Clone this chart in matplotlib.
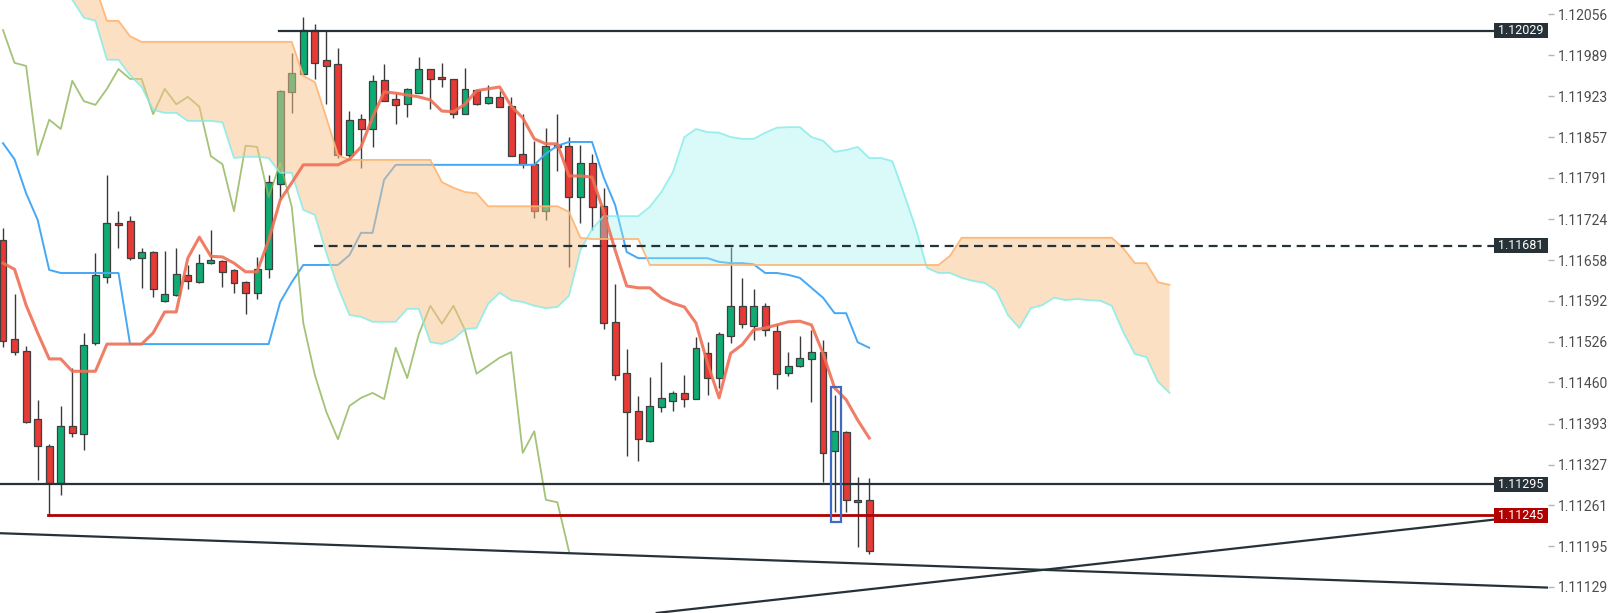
import numpy as np
import matplotlib
matplotlib.use("Agg")
import matplotlib.pyplot as plt
from matplotlib.patches import Rectangle
from matplotlib.transforms import blended_transform_factory

# ---- candles (EUR/USD style prices) ----
opens = [1.11690, 1.11530, 1.11511, 1.11401, 1.11357, 1.11297, 1.11389, 1.11377, 1.11524, 1.11631,
         1.11718, 1.11721, 1.11661, 1.11671, 1.11592, 1.11601, 1.11634, 1.11622, 1.11653, 1.11656,
         1.11642, 1.11622, 1.11605, 1.11643, 1.11781, 1.11930, 1.11959, 1.12030, 1.11982, 1.11975,
         1.11828, 1.11886, 1.11870, 1.11949, 1.11918, 1.11910, 1.11928, 1.11967, 1.11954, 1.11951,
         1.11894, 1.11933, 1.11912, 1.11922, 1.11907, 1.11830, 1.11813, 1.11737, 1.11844, 1.11843,
         1.11760, 1.11815, 1.11745, 1.11558, 1.11475, 1.11414, 1.11365, 1.11420, 1.11430, 1.11443,
         1.11433, 1.11508, 1.11467, 1.11535, 1.11584, 1.11551, 1.11584, 1.11543, 1.11475, 1.11487,
         1.11498, 1.11509, 1.11349, 1.11380, 1.11270, 1.11270]
highs = [1.11710, 1.11603, 1.11519, 1.11432, 1.11360, 1.11422, 1.11483, 1.11540, 1.11669, 1.11796,
         1.11737, 1.11729, 1.11677, 1.11673, 1.11673, 1.11677, 1.11650, 1.11668, 1.11707, 1.11658,
         1.11643, 1.11624, 1.11663, 1.11796, 1.11933, 1.11993, 1.12051, 1.12040, 1.12030, 1.12001,
         1.11899, 1.11894, 1.11957, 1.11975, 1.11928, 1.11936, 1.11986, 1.11967, 1.11977, 1.11951,
         1.11969, 1.11933, 1.11941, 1.11932, 1.11922, 1.11894, 1.11851, 1.11872, 1.11894, 1.11857,
         1.11844, 1.11830, 1.11775, 1.11619, 1.11514, 1.11438, 1.11469, 1.11493, 1.11446, 1.11472,
         1.11533, 1.11525, 1.11541, 1.11679, 1.11629, 1.11611, 1.11588, 1.11555, 1.11509, 1.11535,
         1.11545, 1.11529, 1.11440, 1.11381, 1.11307, 1.11305]
lows = [1.11517, 1.11504, 1.11394, 1.11302, 1.11245, 1.11278, 1.11372, 1.11351, 1.11521, 1.11621,
        1.11677, 1.11658, 1.11613, 1.11598, 1.11590, 1.11600, 1.11611, 1.11621, 1.11651, 1.11614,
        1.11605, 1.11571, 1.11595, 1.11629, 1.11755, 1.11896, 1.11959, 1.11951, 1.11910, 1.11823,
        1.11825, 1.11807, 1.11841, 1.11915, 1.11878, 1.11889, 1.11928, 1.11902, 1.11938, 1.11888,
        1.11894, 1.11909, 1.11910, 1.11906, 1.11826, 1.11807, 1.11726, 1.11723, 1.11802, 1.11647,
        1.11718, 1.11707, 1.11546, 1.11464, 1.11341, 1.11333, 1.11364, 1.11412, 1.11414, 1.11420,
        1.11433, 1.11440, 1.11451, 1.11524, 1.11548, 1.11529, 1.11535, 1.11449, 1.11470, 1.11485,
        1.11428, 1.11299, 1.11250, 1.11250, 1.11194, 1.11182]
closes = [1.11527, 1.11509, 1.11396, 1.11357, 1.11297, 1.11389, 1.11378, 1.11521, 1.11634, 1.11718,
          1.11715, 1.11661, 1.11671, 1.11611, 1.11603, 1.11635, 1.11624, 1.11653, 1.11658, 1.11639,
          1.11621, 1.11605, 1.11643, 1.11784, 1.11932, 1.11961, 1.12030, 1.11977, 1.11972, 1.11828,
          1.11885, 1.11870, 1.11948, 1.11915, 1.11909, 1.11935, 1.11967, 1.11951, 1.11951, 1.11894,
          1.11935, 1.11910, 1.11922, 1.11906, 1.11826, 1.11813, 1.11737, 1.11843, 1.11841, 1.11760,
          1.11815, 1.11744, 1.11556, 1.11472, 1.11412, 1.11368, 1.11422, 1.11435, 1.11443, 1.11433,
          1.11516, 1.11467, 1.11538, 1.11584, 1.11555, 1.11584, 1.11545, 1.11474, 1.11487, 1.11500,
          1.11509, 1.11346, 1.11381, 1.11270, 1.11266, 1.11187]

# ---- ichimoku lines ----
tenkan = [1.11653, 1.11643, 1.11585, 1.11540, 1.11498, 1.11498, 1.11478, 1.11478, 1.11478, 1.11522,
          1.11522, 1.11522, 1.11522, 1.11540, 1.11574, 1.11574, 1.11661, 1.11695, 1.11664, 1.11663,
          1.11653, 1.11639, 1.11639, 1.11690, 1.11755, 1.11783, 1.11812, 1.11812, 1.11812, 1.11812,
          1.11821, 1.11841, 1.11889, 1.11930, 1.11928, 1.11925, 1.11922, 1.11917, 1.11899, 1.11898,
          1.11910, 1.11932, 1.11935, 1.11938, 1.11907, 1.11888, 1.11854, 1.11846, 1.11846, 1.11794,
          1.11794, 1.11792, 1.11737, 1.11674, 1.11616, 1.11613, 1.11613, 1.11597, 1.11588, 1.11582,
          1.11556, 1.11491, 1.11435, 1.11507, 1.11521, 1.11545, 1.11548, 1.11553, 1.11558, 1.11559,
          1.11553, 1.11507, 1.11451, 1.11432, 1.11399, 1.11370]
kijun = ([1.11847, 1.11821, 1.11766, 1.11723, 1.11642] + [1.11637] * 6 + [1.11522] * 13
         + [1.11590, 1.11622] + [1.11650] * 4 + [1.11666, 1.11702, 1.11702, 1.11788]
         + [1.11812] * 13 + [1.11830, 1.11843] + [1.11849] * 3 + [1.11792, 1.11747, 1.11671]
         + [1.11661] * 7 + [1.11655, 1.11653, 1.11653, 1.11651, 1.11637, 1.11637]
         + [1.11634, 1.11629, 1.11613, 1.11597, 1.11572, 1.11572, 1.11525, 1.11516])
span_a = [1.12150, 1.12140, 1.12130, 1.12118, 1.12105, 1.12092, 1.12079, 1.12050, 1.12045, 1.11982,
          1.11982, 1.11957, 1.11938, 1.11901, 1.11896, 1.11896, 1.11883, 1.11883, 1.11883, 1.11881,
          1.11823, 1.11825, 1.11825, 1.11823, 1.11799, 1.11799, 1.11739, 1.11731, 1.11669, 1.11614,
          1.11569, 1.11566, 1.11558, 1.11558, 1.11558, 1.11579, 1.11579, 1.11525, 1.11522, 1.11530,
          1.11546, 1.11548, 1.11587, 1.11605, 1.11593, 1.11590, 1.11584, 1.11580, 1.11582, 1.11600,
          1.11674, 1.11708, 1.11729, 1.11729, 1.11729, 1.11729, 1.11744, 1.11768, 1.11800, 1.11857,
          1.11870, 1.11865, 1.11864, 1.11857, 1.11854, 1.11854, 1.11864, 1.11872, 1.11873, 1.11873,
          1.11857, 1.11851, 1.11833, 1.11836, 1.11841, 1.11823, 1.11823, 1.11818, 1.11766, 1.11711,
          1.11645, 1.11637, 1.11637, 1.11629, 1.11624, 1.11621, 1.11608, 1.11569, 1.11548, 1.11580,
          1.11585, 1.11597, 1.11593, 1.11595, 1.11593, 1.11592, 1.11584, 1.11541, 1.11506, 1.11501,
          1.11461, 1.11443]
span_b = ([1.12190, 1.12190, 1.12190, 1.12185, 1.12175, 1.12160, 1.12140, 1.12120, 1.12100]
          + [1.12045, 1.12045, 1.12020] + [1.12011] * 14 + [1.11956, 1.11946, 1.11888, 1.11828]
          + [1.11820] * 8 + [1.11784, 1.11775, 1.11768, 1.11766] + [1.11745] * 7
          + [1.11736, 1.11694] + [1.11692] * 5 + [1.11650] * 26 + [1.11665]
          + [1.11694] * 14 + [1.11677, 1.11653, 1.11653, 1.11622, 1.11618])
shift = 26

# ---- drawn levels / lines ----
levels = [1.12029, 1.11681, 1.11295, 1.11245]
level_start = [23.9, 26.9, -0.3, 3.9]
level_colors = ["#263238", "#263238", "#263238", "#b00000"]
level_styles = ["-", (0, (4, 2.6)), "-", "-"]
label_colors = ["#263238", "#263238", "#263238", "#b00000"]
line_end = 129.1
trend_down = ([-0.26, 133.77], [1.11216, 1.11128])
trend_up = ([56.6, 129.1], [1.11087, 1.11238])
box_x = [71.7, 72.55]
box_y = [1.11234, 1.11453]

yticks = [1.12056, 1.11989, 1.11923, 1.11857, 1.11791, 1.11724, 1.11658, 1.11592,
          1.11526, 1.11460, 1.11393, 1.11327, 1.11261, 1.11195, 1.11129]

W, H = 1610, 613
fig = plt.figure(figsize=(W / 100, H / 100), dpi=100)
ax = fig.add_axes([0, 0, 1548 / W, 1])
ax.set_xlim(-0.26, 133.77)
ax.set_ylim(1.110869, 1.120787)

idx = np.arange(len(opens))
o = np.array(opens); c = np.array(closes)
up = c >= o
body_col = np.where(up, "#0eac72", "#e53a35")

# candles
ax.vlines(idx, lows, highs, color="#3a3a3a", lw=1.0, zorder=2)
ax.bar(idx, np.abs(c - o), bottom=np.minimum(o, c), width=0.6, color=body_col,
       edgecolor="#3f3f3f", linewidth=0.9, zorder=2.5)

# kijun and lagging span sit under the cloud fill
ax.plot(idx, kijun, color="#45a8f7", lw=1.4, zorder=2.8)
ax.plot(idx[:-shift], closes[shift:], color="#8db356", lw=1.3, alpha=0.8, zorder=2.8)

# cloud
xc = np.arange(len(span_a))
a = np.array(span_a); b = np.array(span_b)
ax.fill_between(xc, a, b, where=b >= a, interpolate=True, color="#f9c38a", alpha=0.5, lw=0, zorder=3)
ax.fill_between(xc, a, b, where=a >= b, interpolate=True, color="#a0f0f0", alpha=0.38, lw=0, zorder=3)
ax.plot(xc, a, color="#80ece8", lw=1.3, alpha=0.8, zorder=3.2)
ax.plot(xc, b, color="#ffb470", lw=1.3, alpha=0.9, zorder=3.2)

# conversion line
ax.plot(idx, tenkan, color="#ef7055", lw=2.2, alpha=0.9, zorder=4.2)

# levels
tr = blended_transform_factory(ax.transAxes, ax.transData)
bh = 15 * (1.120787 - 1.110869) / H
for lv, x0, col, ls, lc in zip(levels, level_start, level_colors, level_styles, label_colors):
    ax.plot([x0, line_end], [lv, lv], color=col, lw=1.6 if col != "#b00000" else 2.0,
            linestyle=ls, zorder=5)
    ax.add_patch(Rectangle((1494 / 1548, lv - bh / 2), 1 - 1494 / 1548, bh, transform=tr,
                           facecolor=lc, edgecolor="none", zorder=6, clip_on=False))
    ax.text((1 + 1494 / 1548) / 2, lv, f"{lv:.5f}", transform=tr, ha="center", va="center",
            color="white", fontsize=9, family="Roboto", zorder=7)

ax.plot(*trend_down, color="#263238", lw=1.6, zorder=5)
ax.plot(*trend_up, color="#263238", lw=1.6, zorder=5)
ax.add_patch(Rectangle((box_x[0], box_y[0]), box_x[1] - box_x[0], box_y[1] - box_y[0],
                       fill=False, edgecolor="#4169c4", lw=1.6, zorder=6))

# axis styling
for s in ax.spines.values():
    s.set_visible(False)
ax.set_xticks([])
ax.yaxis.tick_right()
ax.set_yticks(yticks)
ax.set_yticklabels([f"{t:.5f}" for t in yticks], family="Roboto", fontsize=10, color="#4d4d4d")
ax.tick_params(axis="y", length=4, width=1, color="#b5b5b5", pad=3)

fig.savefig("out.png", dpi=100, facecolor="white")
